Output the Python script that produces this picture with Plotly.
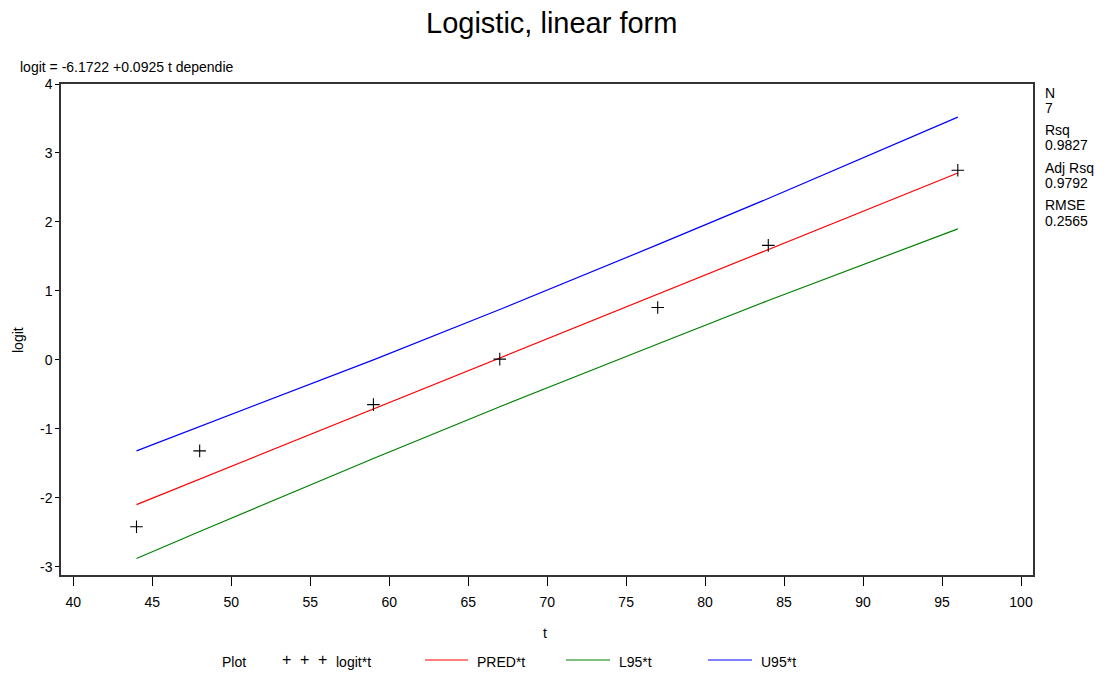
import plotly.graph_objects as go

# Data
t_vals = [44, 48, 59, 67, 77, 84, 96]
logit_vals = [-2.42, -1.32, -0.65, 0.01, 0.76, 1.66, 2.75]
pred_vals = [-2.10, -1.73, -0.72, 0.03, 0.95, 1.60, 2.71]
l95_vals = [-2.88, -2.49, -1.43, -0.68, 0.23, 0.86, 1.90]
u95_vals = [-1.32, -0.97, 0.00, 0.73, 1.67, 2.34, 3.52]

x_ticks = list(range(40, 101, 5))
y_ticks = [-3, -2, -1, 0, 1, 2, 3, 4]
y_tick_text = ["-3", "-2", "-1", "0", "1", "2", "3", "4"]

stats_labels = ["N", "7", "Rsq", "0.9827", "Adj Rsq", "0.9792", "RMSE", "0.2565"]
equation = "logit = -6.1722 +0.0925 t dependie"
title_text = "Logistic, linear form"

W, H = 1107, 674
L, R, T, B = 61, 1033, 84, 575
FONT = "Liberation Sans, Arial, sans-serif"


def px(x):
    return (x - L) / (R - L)


def py(y):
    return (B - y) / (B - T)


fig = go.Figure()
fig.add_trace(go.Scatter(x=t_vals, y=pred_vals, mode="lines",
                         line=dict(color="#ff0000", width=1.2), name="PRED*t"))
fig.add_trace(go.Scatter(x=t_vals, y=l95_vals, mode="lines",
                         line=dict(color="#008000", width=1.2), name="L95*t"))
fig.add_trace(go.Scatter(x=t_vals, y=u95_vals, mode="lines",
                         line=dict(color="#0000ff", width=1.2), name="U95*t"))
fig.add_trace(go.Scatter(x=t_vals, y=logit_vals, mode="markers",
                         marker=dict(symbol="cross-thin", size=9, color="black",
                                     line=dict(color="black", width=1.1)),
                         name="logit*t"))

annotations = []
# title
annotations.append(dict(text=title_text, x=px(551), y=py(23), xref="paper", yref="paper",
                        showarrow=False, xanchor="center", yanchor="middle",
                        font=dict(family=FONT, size=29, color="black")))
# equation
annotations.append(dict(text=equation, x=px(18), y=py(67), xref="paper", yref="paper",
                        showarrow=False, xanchor="left", yanchor="middle",
                        font=dict(family=FONT, size=14, color="black")))
# stats
stat_y = [93, 108, 130, 145, 168, 183, 205, 221]
for lab, yy in zip(stats_labels, stat_y):
    annotations.append(dict(text=lab, x=px(1043), y=py(yy), xref="paper", yref="paper",
                            showarrow=False, xanchor="left", yanchor="middle",
                            font=dict(family=FONT, size=14, color="black")))
# axis titles
annotations.append(dict(text="logit", x=px(18), y=py(340), xref="paper", yref="paper",
                        showarrow=False, textangle=-90, xanchor="center", yanchor="middle",
                        font=dict(family=FONT, size=14, color="black")))
annotations.append(dict(text="t", x=px(545), y=py(633), xref="paper", yref="paper",
                        showarrow=False, xanchor="center", yanchor="middle",
                        font=dict(family=FONT, size=14, color="black")))
# legend
leg_y = 662
annotations.append(dict(text="Plot", x=px(220), y=py(leg_y), xref="paper", yref="paper",
                        showarrow=False, xanchor="left", yanchor="middle",
                        font=dict(family=FONT, size=14, color="black")))
for cx in [286, 304, 322]:
    annotations.append(dict(text="+", x=px(cx), y=py(leg_y - 3), xref="paper", yref="paper",
                            showarrow=False, xanchor="center", yanchor="middle",
                            font=dict(family=FONT, size=16, color="black")))
leg_items = [("logit*t", 334), ("PRED*t", 475), ("L95*t", 617), ("U95*t", 759)]
for lab, xx in leg_items:
    annotations.append(dict(text=lab, x=px(xx), y=py(leg_y), xref="paper", yref="paper",
                            showarrow=False, xanchor="left", yanchor="middle",
                            font=dict(family=FONT, size=14, color="black")))

shapes = []
for (x0, x1, col) in [(425, 468, "#ff0000"), (566, 610, "#008000"), (708, 752, "#0000ff")]:
    shapes.append(dict(type="line", xref="paper", yref="paper",
                       x0=px(x0), x1=px(x1), y0=py(660), y1=py(660),
                       line=dict(color=col, width=1.2)))

fig.update_layout(
    width=W, height=H,
    margin=dict(l=L, r=W - R, t=T, b=H - B, pad=0),
    paper_bgcolor="white", plot_bgcolor="white",
    showlegend=False,
    annotations=annotations,
    shapes=shapes,
    font=dict(family=FONT, size=14, color="black"),
)
fig.update_xaxes(range=[39.22, 100.76], tickvals=x_ticks, ticks="outside", ticklen=9,
                 tickwidth=1, tickcolor="black", showline=True, linecolor="#333333",
                 linewidth=1.5, mirror=True, showgrid=False, zeroline=False,
                 tickfont=dict(family=FONT, size=14, color="black"), ticklabelstandoff=4)
fig.update_yaxes(range=[-3.12, 4.0], tickvals=y_ticks, ticktext=y_tick_text,
                 ticks="outside", ticklen=4,
                 tickwidth=1, tickcolor="black", showline=True, linecolor="#333333",
                 linewidth=1.5, mirror=True, showgrid=False, zeroline=False,
                 tickfont=dict(family=FONT, size=14, color="black"))

fig.write_html("out.html")
